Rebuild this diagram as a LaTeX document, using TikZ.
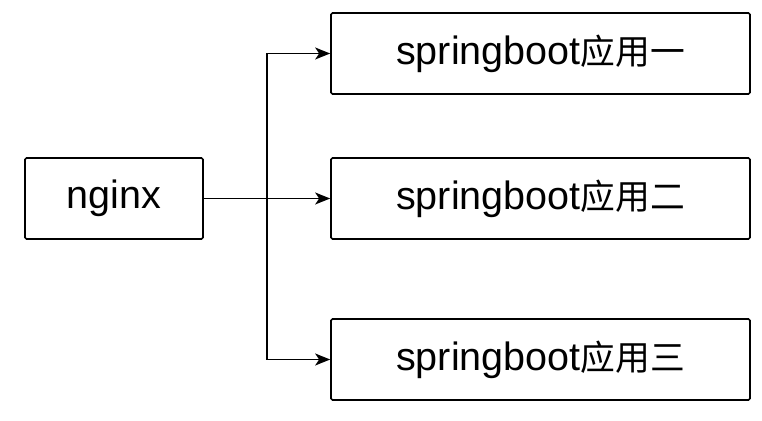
\documentclass[tikz,border=0pt]{standalone}
\usepackage{fontspec}
\setmainfont{Liberation Sans}
\newfontfamily\cjk[Scale=0.88]{Noto Sans CJK SC}
\usetikzlibrary{arrows.meta}
\begin{document}
\begin{tikzpicture}[x=1pt,y=1pt,
  box/.style={draw, line width=1.7pt, rounded corners=1.5pt, minimum height=81pt, inner sep=0pt,
    font=\fontsize{39.5}{46}\selectfont},
  conn/.style={line width=1.7pt, -{Stealth[length=15pt,width=12pt,inset=4pt]}}]
\useasboundingbox (0,0) rectangle (762,420);
\node[box, minimum width=178pt] (ng) at (114,221.5) {nginx};
\node[box, minimum width=419pt] (a1) at (540.5,366.5) {springboot{\cjk 应用一}};
\node[box, minimum width=419pt] (a2) at (540.5,221.5) {springboot{\cjk 应用二}};
\node[box, minimum width=419pt] (a3) at (540.5,60.5) {springboot{\cjk 应用三}};
\coordinate (j) at (267,221.5);
\draw[conn] (ng.east) -- (a2.west);
\draw[conn] (j) |- (a1.west);
\draw[conn] (j) |- (a3.west);
\end{tikzpicture}
\end{document}
